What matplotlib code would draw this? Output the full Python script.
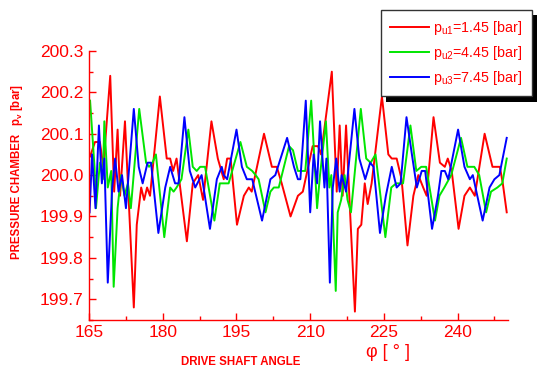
import matplotlib
matplotlib.use("Agg")
import matplotlib.pyplot as plt
import matplotlib.patheffects as pe
from matplotlib.ticker import MultipleLocator

plt.rcParams['font.family'] = ['Liberation Sans', 'DejaVu Sans']
plt.rcParams['mathtext.fontset'] = 'custom'
plt.rcParams['mathtext.rm'] = 'Liberation Sans'
plt.rcParams['mathtext.it'] = 'Liberation Sans'
plt.rcParams['mathtext.bf'] = 'Liberation Sans:bold'
plt.rcParams['mathtext.default'] = 'regular'

# ---- data (angle [deg], chamber pressure [bar]) ----
red_x = [165.2, 166.2, 167.2, 167.9, 169.3, 170.1, 170.8, 171.3, 172.3, 174.1, 174.7, 175.6,
         176.2, 176.8, 177.4, 179.4, 180.8, 181.5, 182.1, 182.8, 184.9, 186.1, 187.2, 188.2,
         189.9, 191.2, 192.4, 193.1, 193.8, 195.1, 196.5, 197.5, 198.1, 200.6, 202.2, 203.2,
         204.2, 206.0, 207.5, 208.5, 210.5, 211.6, 212.2, 214.4, 215.4, 216.0, 216.6, 217.3,
         218.0, 219.1, 219.7, 220.4, 221.1, 221.7, 222.5, 224.6, 225.9, 226.6, 227.6, 228.6,
         229.8, 231.0, 232.0, 233.0, 233.7, 235.1, 236.4, 237.4, 238.0, 238.8, 240.2, 241.4,
         242.5, 243.5, 245.5, 247.1, 248.6, 249.2, 250.0]
red_y = [200.045, 200.08, 200.08, 200.02, 200.24, 199.96, 200.11, 199.95, 200.13, 199.68, 199.88, 199.97,
         199.94, 199.97, 199.95, 200.19, 200.04, 200.04, 200.01, 200.04, 199.84, 199.98, 200.00, 199.94,
         200.13, 200.04, 199.99, 200.04, 200.04, 199.88, 199.95, 199.97, 199.96, 200.10, 200.02, 200.02,
         199.98, 199.90, 199.95, 199.96, 200.07, 200.07, 200.05, 200.25, 199.96, 200.12, 199.95, 200.12,
         199.94, 199.67, 199.87, 199.88, 199.98, 199.93, 199.98, 200.19, 200.05, 200.04, 200.04, 199.99,
         199.83, 199.95, 200.00, 199.97, 199.95, 200.14, 200.03, 200.02, 200.04, 200.01, 199.87, 199.95,
         199.97, 199.95, 200.10, 200.02, 200.02, 199.98, 199.91]

green_x = [165.2, 166.1, 166.4, 167.2, 167.8, 168.1, 168.8, 169.5, 170.0, 170.8, 171.5, 172.2,
           172.9, 173.5, 175.2, 176.6, 177.2, 177.9, 178.6, 180.3, 181.5, 182.2, 182.8, 183.8,
           185.2, 186.1, 186.9, 187.6, 188.6, 190.5, 191.6, 193.4, 195.8, 197.1, 198.2, 198.9,
           199.5, 200.9, 201.9, 202.6, 203.6, 205.7, 206.5, 207.5, 209.0, 210.2, 211.4, 212.0,
           213.2, 213.9, 214.3, 215.2, 215.6, 216.3, 217.0, 217.6, 218.3, 220.3, 221.4, 222.3,
           223.3, 225.3, 226.5, 227.5, 228.9, 230.4, 231.6, 232.6, 233.6, 235.4, 236.3, 237.3,
           238.7, 240.7, 242.0, 243.4, 244.4, 245.8, 246.8, 248.1, 249.1, 250.0]
green_y = [200.18, 200.02, 199.92, 200.03, 199.99, 200.13, 199.97, 200.01, 199.73, 199.92, 200.00, 199.95,
           199.98, 199.92, 200.16, 200.03, 200.02, 200.03, 200.05, 199.85, 199.97, 199.96, 199.97, 199.99,
           200.11, 200.02, 200.01, 200.02, 200.02, 199.89, 199.98, 199.98, 200.08, 200.02, 200.01, 200.00,
           199.99, 199.91, 199.96, 199.97, 199.97, 200.07, 200.06, 200.01, 200.01, 200.18, 199.92, 200.00,
           200.13, 199.97, 200.00, 199.72, 199.91, 199.94, 200.00, 199.94, 199.91, 200.16, 200.04, 200.03,
           200.05, 199.85, 199.97, 199.98, 199.98, 200.12, 200.01, 200.02, 200.02, 199.89, 199.95, 199.97,
           200.00, 200.09, 200.02, 200.02, 200.00, 199.91, 199.96, 199.97, 199.98, 200.04]

blue_x = [165.1, 165.6, 166.3, 167.0, 167.6, 168.1, 168.8, 169.7, 170.3, 171.0, 171.7, 172.5,
          174.1, 175.1, 175.9, 176.9, 177.6, 179.1, 180.5, 181.5, 182.5, 183.2, 184.4, 185.5,
          186.6, 187.9, 189.6, 191.0, 192.0, 192.4, 193.1, 195.0, 196.1, 197.1, 198.2, 200.2,
          201.9, 202.9, 205.3, 206.7, 207.5, 208.0, 209.1, 210.0, 210.7, 211.4, 212.0, 212.9,
          213.3, 214.0, 214.6, 215.3, 216.0, 216.4, 217.3, 217.9, 219.0, 220.0, 221.2, 222.2,
          222.9, 224.2, 225.4, 226.6, 227.6, 228.4, 229.6, 230.7, 231.7, 232.7, 233.4, 234.8,
          236.0, 236.7, 237.4, 238.1, 240.1, 241.4, 242.5, 243.1, 245.1, 246.5, 247.5, 248.5,
          250.0]
blue_y = [199.91, 200.05, 199.92, 200.12, 199.98, 200.04, 199.74, 199.97, 200.04, 199.96, 200.00, 199.92,
          200.16, 200.02, 199.98, 200.03, 200.03, 199.86, 199.97, 200.02, 199.98, 199.98, 200.14, 200.01,
          199.97, 200.00, 199.87, 199.99, 200.02, 200.00, 199.99, 200.11, 200.02, 199.99, 199.99, 199.89,
          199.99, 200.00, 200.09, 200.02, 199.99, 199.99, 200.18, 199.91, 200.05, 199.98, 200.13, 199.97,
          200.04, 199.74, 199.97, 200.04, 199.96, 200.00, 199.96, 200.03, 200.16, 200.04, 199.99, 200.03,
          200.02, 199.86, 199.95, 200.02, 199.97, 199.98, 200.14, 200.05, 199.97, 200.01, 200.01, 199.87,
          199.95, 200.01, 200.01, 199.99, 200.11, 200.02, 199.99, 200.00, 199.89, 199.97, 199.99, 200.00,
          200.09]

labels = [r'$p_{u1}$=1.45 [bar]', r'$p_{u2}$=4.45 [bar]', r'$p_{u3}$=7.45 [bar]']
colors = ['#ff0000', '#00e600', '#0000ff']
xticks = [165, 180, 195, 210, 225, 240]
yticks = [199.7, 199.8, 199.9, 200.0, 200.1, 200.2, 200.3]

RED = '#ff0000'

fig = plt.figure(figsize=(5.5, 3.75), dpi=100)
ax = fig.add_axes([0.162, 0.147, 0.762, 0.717])

for xs, ys, c, lab in zip([red_x, green_x, blue_x], [red_y, green_y, blue_y], colors, labels):
    ax.plot(xs, ys, color=c, lw=1.4, label=lab, solid_joinstyle='round')

ax.set_xlim(165, 250.3)
ax.set_ylim(199.65, 200.3)
ax.set_xticks(xticks)
ax.set_yticks(yticks)
ax.set_yticklabels([f'{v:.1f}' for v in yticks])
ax.xaxis.set_minor_locator(MultipleLocator(7.5))
ax.yaxis.set_minor_locator(MultipleLocator(0.05))

for s in ['top', 'right']:
    ax.spines[s].set_visible(False)
for s in ['left', 'bottom']:
    ax.spines[s].set_color(RED)
    ax.spines[s].set_linewidth(1.0)

ax.tick_params(axis='both', which='major', direction='in', length=5, width=1,
               color=RED, labelcolor=RED, labelsize=12.5, pad=4)
ax.tick_params(axis='both', which='minor', direction='in', length=3, width=1, color=RED)

# axis titles
fig.text(0.031, 0.475, 'PRESSURE CHAMBER', rotation=90, color=RED, fontsize=8.3,
         fontweight='bold', ha='center', va='center')
fig.text(0.031, 0.72, r'$\mathbf{p_v}$ [bar]', rotation=90, color=RED, fontsize=8.3,
         fontweight='bold', ha='center', va='center')
fig.text(0.438, 0.035, 'DRIVE SHAFT ANGLE', color=RED, fontsize=8.3,
         fontweight='bold', ha='center', va='center')
fig.text(0.705, 0.061, 'φ [ ° ]', color=RED, fontsize=13,
         ha='center', va='center')

leg = fig.legend(loc='upper left', bbox_to_anchor=(0.693, 0.973), frameon=True,
                 fancybox=False, edgecolor='#333333', framealpha=1, fontsize=10.3,
                 handlelength=2.7, borderpad=0.65, labelspacing=0.48, handletextpad=0.3,
                 borderaxespad=0)
for t in leg.get_texts():
    t.set_color(RED)
frame = leg.get_frame()
frame.set_linewidth(1.0)
frame.set_path_effects([pe.SimplePatchShadow(offset=(3.8, -3.8), shadow_rgbFace='black',
                                             alpha=1.0, rho=1.0),
                        pe.Normal()])

fig.savefig('out.png', dpi=100)
